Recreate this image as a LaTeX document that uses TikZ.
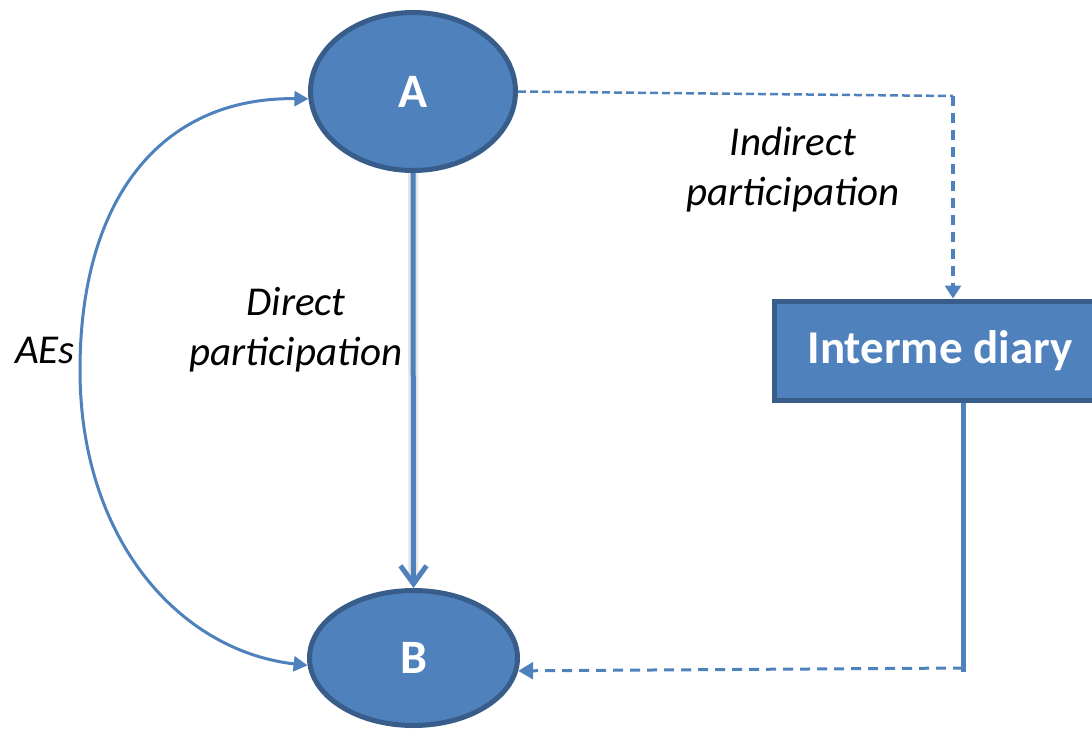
\documentclass[tikz,border=0pt]{standalone}
\usepackage{fontspec}
\setmainfont{Carlito}
\usetikzlibrary{shapes.geometric,arrows.meta}
\definecolor{accent}{HTML}{4F81BD}
\definecolor{rim}{HTML}{385D8A}
\begin{document}
\begin{tikzpicture}[x=1pt,y=-1pt,
  entity/.style={ellipse, draw=rim, line width=5pt, fill=accent, inner sep=0pt,
    text=white, font=\fontsize{48}{56}\selectfont\bfseries},
  agent/.style={rectangle, draw=rim, line width=5pt, fill=accent, inner sep=0pt,
    text=white, font=\fontsize{47}{56}\selectfont\bfseries},
  label/.style={align=center, inner sep=0pt, font=\fontsize{41}{50}\selectfont\itshape},
  flow/.style={draw=accent, line width=3pt},
  dashflow/.style={draw=accent, line width=3pt, dash pattern=on 10pt off 7pt},
  fine dash/.style={draw=accent, line width=2.5pt, dash pattern=on 8pt off 4pt},
  tip/.style={-{Triangle[length=13pt,width=16pt]}},
]
\useasboundingbox (0,0) rectangle (1092,731);
\clip (0,0) rectangle (1092,731);

% the two parties and the intermediary
\node[entity, minimum width=205pt, minimum height=158pt] (A) at (413,91.5) {A};
\node[entity, minimum width=208pt, minimum height=135pt] (B) at (413.5,658) {B};
\node[agent, minimum width=332pt, minimum height=99pt] (inter) at (940,350.5) {Interme diary};

% bend points of the indirect route
\coordinate (c1) at (953,96);
\coordinate (c2) at (963,668);

% direct participation: thick arrow with a soft shadow
\draw[line width=10pt, black!20, opacity=0.5] (A.south) -- ([yshift=8pt]B.north);
\draw[draw=accent, line width=5pt, -{Straight Barb[length=18pt,width=26pt]}] (A.south) -- (B.north);

% AEs: two-headed curve on the left
\draw[flow, {Triangle[length=14pt,width=15pt]}-{Triangle[length=14pt,width=15pt]}]
  (B.184) .. controls (180,651) and (80,540) .. (80,370)
  .. controls (80,200) and (160,97) .. (A.184);

% indirect participation via the intermediary
\draw[fine dash] (A.east) -- (c1);
\draw[dashflow, line width=3.5pt, tip] (c1) -- (c1 |- inter.north);
\draw[draw=accent, line width=5pt] (c2 |- inter.south) -- ([yshift=-4pt]c2);
\draw[dashflow, -{Triangle[length=15pt,width=17pt]}] (c2) -- (B.-7);

% labels
\node[label] (l1) at (793,170) {Indirect\\participation};
\node[label] (l2) at (296,330) {Direct\\participation};
\node[label] (l3) at (45,350) {AEs};
\end{tikzpicture}
\end{document}
